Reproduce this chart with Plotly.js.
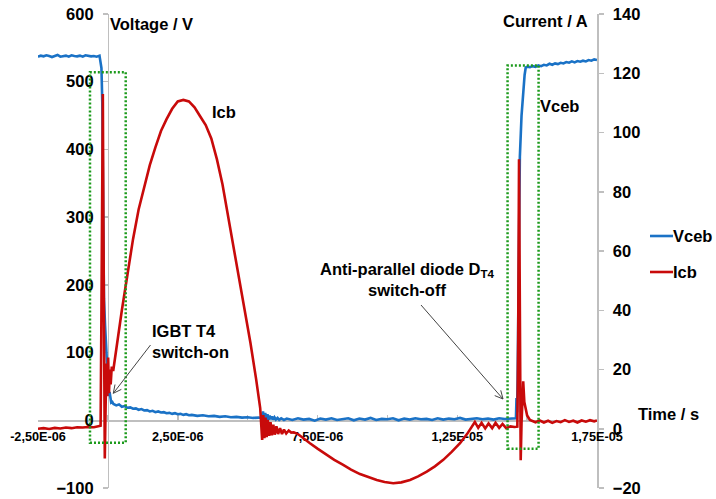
<!DOCTYPE html>
<html><head><meta charset="utf-8">
<script src="https://cdn.plot.ly/plotly-3.0.1.min.js"></script>
<style>html,body{margin:0;padding:0;background:#fff}#chart{width:716px;height:499px}</style>
</head><body><div id="chart"></div>
<script>
// Time values in microseconds (axis labels shown in seconds)
const vTime = [
  -2.5,-2.4,-2.3,-2.2,-2.1,-2.0,-1.9,-1.8,-1.7,-1.6,-1.5,-1.4,-1.3,-1.2,-1.1,-1.0,-0.9,-0.8,-0.7,-0.6,-0.5,-0.4,-0.3,
  -0.27,-0.23,-0.2,-0.17,-0.14,-0.1,-0.06,-0.03,0,0.03,0.06,0.09,0.12,0.16,0.2,
  0.3,0.4,0.5,0.6,0.7,0.8,0.9,1.0,1.1,1.2,1.3,1.4,1.5,1.6,1.7,1.8,1.9,2.0,2.1,2.2,2.3,2.4,2.5,2.6,2.7,2.8,2.9,3.0,
  3.2,3.4,3.6,3.8,4.0,4.2,4.4,4.6,4.8,5.0,5.2,5.4,5.5,
  5.55,5.59,5.63,5.67,5.71,5.75,5.79,5.83,5.87,5.91,5.96,6.01,6.07,6.13,6.2,6.3,
  6.4,6.6,6.8,7.0,7.2,7.4,7.6,7.8,8.0,8.2,8.4,8.6,8.8,9.0,9.2,9.4,9.6,9.8,10.0,10.2,10.4,10.6,10.8,11.0,11.2,11.4,11.6,11.8,12.0,12.2,12.4,12.6,12.8,13.0,13.2,13.4,13.6,13.8,14.0,14.2,14.4,
  14.5,14.6,14.62,14.64,14.66,14.68,14.71,14.74,14.8,14.86,14.91,14.95,15.0,
  15.1,15.2,15.3,15.4,15.5,15.6,15.7,15.8,15.9,16.0,16.1,16.2,16.3,16.4,16.5,16.6,16.7,16.8,16.9,17.0,17.1,17.2,17.3,17.4,17.5
];
const vceb = [
  537,538.5,537.5,539,538,536.5,538,539.5,537,538,538.5,537,539,538,537.5,538.5,537,539,538,537.5,538,537,538.5,
  531,520,470,300,180,140,104,80,50,36,42,30,26,27,24,
  22,23.5,20,21,18.5,19,17,17.5,15.5,16.5,14.5,15,13,14,12,13,11.5,12,10.5,11,9.5,10.5,9,9.5,8,9,7.5,8,
  6.5,7.5,6,6.5,5,6,4.5,5,4,4.5,3.5,4,3,
  13,-2,11,0,9,1,7,1.5,5.5,1,4.5,1,3.5,0.5,3,0.5,
  2.5,0.5,3,1,2,-0.5,2.5,1,3,0.5,1.5,3,0,2.5,1,3.5,0.5,2,1.5,3,0,2.5,1,3,1.5,2,0.5,3,1,2.5,1.5,3.5,1,2,3,1.5,2.5,1,3,2,2.5,
  2.5,3,33,12,60,177,300,389,450,488,510,521,522,
  521.5,523,522,524,523,525,524,526.5,525,527,526,528,527,529,528,530,528.5,530.5,529.5,531,530,532,531,533,532
];
const iTime = [
  -2.5,-2.3,-2.1,-1.9,-1.7,-1.5,-1.3,-1.1,-0.9,-0.7,-0.5,-0.3,
  -0.26,-0.23,-0.2,-0.18,-0.16,-0.13,-0.11,-0.08,-0.05,-0.02,0.01,0.04,0.07,0.1,0.14,0.19,
  0.3,0.5,0.7,0.9,1.1,1.3,1.5,1.7,1.9,2.1,2.3,2.5,2.7,2.9,3.1,3.3,3.5,3.7,3.9,4.1,4.3,4.5,4.7,4.9,5.1,5.3,5.45,
  5.52,5.56,5.6,5.64,5.68,5.72,5.77,5.82,5.87,5.92,5.97,6.03,6.09,6.16,6.23,6.3,6.38,6.47,6.56,6.65,
  6.8,7.0,7.23,7.5,7.83,8.1,8.42,8.7,9.02,9.3,9.62,9.9,10.21,10.5,10.81,11.1,11.41,11.7,12.0,12.3,12.6,12.85,13.05,
  13.13,13.25,13.37,13.5,13.62,13.75,13.87,14.0,14.12,14.25,14.4,14.55,14.65,14.68,14.71,14.74,14.77,14.8,14.83,14.86,14.9,14.95,15.0,15.1,
  15.3,15.45,15.6,15.75,15.9,16.05,16.2,16.35,16.5,16.65,16.8,16.95,17.1,17.25,17.4,17.5
];
const icb = [
  0,0.2,-0.1,0.3,0.1,0.4,0.2,0.5,0.4,0.6,0.5,0.8,
  1,40,100,113,70,20,-10,8,22,11,24,12,20,15,21,19.5,
  27,40,52,64,74,82,89,95,100.5,104.5,108,110.5,111,110.5,108.5,105.5,102.5,98,91,82.5,72,61,51,40,29,17,7,
  -3.8,4.6,-3.2,3.8,-2.8,3,-2.4,2.2,-2.2,1.4,-2,0.8,-1.8,0.2,-1.8,-0.3,-1.6,-0.6,-1.3,-1.2,
  -1.8,-3.3,-4.9,-6.7,-8.9,-10.5,-12.2,-13.8,-15.3,-16.3,-17.3,-18,-18.4,-18.1,-17.3,-16.1,-14.5,-12.7,-10.5,-7.8,-4.9,-1.8,1.3,
  2.3,0.3,2.0,0.1,1.8,0.2,2.0,0.3,1.6,0.2,0.8,0.6,0.7,30,91,40,-10.6,2,8,16,9,6,4.5,3,
  2.2,2.8,2.1,2.7,2.0,2.6,2.2,2.9,2.3,2.7,2.1,2.8,2.4,2.9,2.5,2.8
];
const xTickVals = [-2.5,2.5,7.5,12.5,17.5];
const xTickText = ["-2,50E-06","2,50E-06","7,50E-06","1,25E-05","1,75E-05"];
const seriesNames = ["Vceb","Icb"];

const BLUE = '#1a72c6', RED = '#c80a0a', GREEN = '#1c9a1c', AX = '#bfbfbf', ARROW = '#444';
const FONT = 'Liberation Sans, Arial, Helvetica, sans-serif';
const L = 38, R = 597, T = 14, B = 488;
const px = x => (x - L) / (R - L);
const py = y => (B - y) / (B - T);

const traces = [
  {x: vTime, y: vceb, name: seriesNames[0], type: 'scatter', mode: 'lines', yaxis: 'y',
   line: {color: BLUE, width: 2.6}},
  {x: iTime, y: icb, name: seriesNames[1], type: 'scatter', mode: 'lines', yaxis: 'y2',
   line: {color: RED, width: 2.6}}
];

const txt = (text, x, y, xanchor, extra) => Object.assign({
  text, xref: 'paper', yref: 'paper', x: px(x), y: py(y), xanchor: xanchor || 'left', yanchor: 'middle',
  showarrow: false, font: {family: FONT, size: 16.5, color: '#000', weight: 'bold'}
}, extra || {});

const annotations = [
  txt('Voltage / V', 108, 23.5),
  txt('Current / A', 501, 20.5),
  txt('Time / s', 636, 414),
  txt('Icb', 210, 111.7),
  txt('Vceb', 538, 106),
  txt('IGBT T4<br>switch-on', 150, 341, 'left', {align: 'left'}),
  txt('Anti-parallel diode D<sub>T4</sub><br>switch-off', 407, 279.5, 'center', {align: 'center'}),
  txt('Vceb', 671, 236),
  txt('Icb', 671, 272)
];

// arrow drawn as a path shape (pixel coordinates converted to paper units)
function arrowPath(x1, y1, x2, y2) {
  const dx = x2 - x1, dy = y2 - y1, len = Math.hypot(dx, dy);
  const ux = dx / len, uy = dy / len, nx = -uy, ny = ux;
  const hl = 8, hw = 4;
  const a = [x2 - hl * ux + hw * nx, y2 - hl * uy + hw * ny];
  const b = [x2 - hl * ux - hw * nx, y2 - hl * uy - hw * ny];
  const P = (x, y) => px(x) + ',' + py(y);
  return 'M' + P(x1, y1) + 'L' + P(x2, y2) + 'M' + P(a[0], a[1]) + 'L' + P(x2, y2) + 'L' + P(b[0], b[1]);
}

const shapes = [
  {type: 'rect', xref: 'x', yref: 'y', x0: -0.64, x1: 0.638, y0: -33, y1: 514,
   line: {color: GREEN, width: 2.5, dash: '2px,2px'}, fillcolor: 'rgba(0,0,0,0)'},
  {type: 'rect', xref: 'x', yref: 'y', x0: 14.30, x1: 15.41, y0: -42, y1: 524,
   line: {color: GREEN, width: 2.5, dash: '2px,2px'}, fillcolor: 'rgba(0,0,0,0)'},
  {type: 'line', xref: 'paper', yref: 'paper', x0: px(650), x1: px(673), y0: py(236), y1: py(236),
   line: {color: BLUE, width: 2.6}},
  {type: 'line', xref: 'paper', yref: 'paper', x0: px(650), x1: px(673), y0: py(272), y1: py(272),
   line: {color: RED, width: 2.6}},
  {type: 'path', xref: 'paper', yref: 'paper', path: arrowPath(150.5, 345, 113.3, 393.3),
   line: {color: ARROW, width: 1}},
  {type: 'path', xref: 'paper', yref: 'paper', path: arrowPath(421, 305, 503, 399),
   line: {color: ARROW, width: 1}}
];

const axisCommon = {showgrid: false, zeroline: false, showline: true, linecolor: AX, linewidth: 1.5,
  tickcolor: AX, tickwidth: 1.5, layer: 'below traces'};

const layout = {
  width: 716, height: 499,
  margin: {l: L, r: 716 - R, t: T, b: 499 - B, pad: 0},
  paper_bgcolor: '#fff', plot_bgcolor: '#fff',
  showlegend: false,
  font: {family: FONT, size: 16, color: '#000'},
  xaxis: Object.assign({}, axisCommon, {
    range: [-2.5, 17.5], anchor: 'free', position: 1 / 7,
    tickmode: 'array', tickvals: xTickVals, ticktext: xTickText,
    ticks: 'inside', ticklen: 5, ticklabelstandoff: 4,
    minor: {tickmode: 'linear', tick0: 0, dtick: 5, ticks: 'inside', ticklen: 5, tickcolor: AX, tickwidth: 1.5, showgrid: false},
    tickfont: {family: FONT, size: 12.7, color: '#000', weight: 'bold'}
  }),
  yaxis: Object.assign({}, axisCommon, {
    range: [-100, 600], dtick: 100, anchor: 'free', position: 0.125,
    ticks: 'outside', ticklen: 5, ticklabelstandoff: 6,
    tickfont: {family: FONT, size: 16.5, color: '#000', weight: 'bold'}
  }),
  yaxis2: Object.assign({}, axisCommon, {
    range: [-20, 140], dtick: 20, overlaying: 'y', side: 'right', anchor: 'free', position: 1,
    ticks: 'outside', ticklen: 5, ticklabelstandoff: 6,
    tickfont: {family: FONT, size: 16.5, color: '#000', weight: 'bold'}
  }),
  annotations, shapes
};

Plotly.newPlot('chart', traces, layout, {staticPlot: true, displayModeBar: false});
</script>
</body></html>
